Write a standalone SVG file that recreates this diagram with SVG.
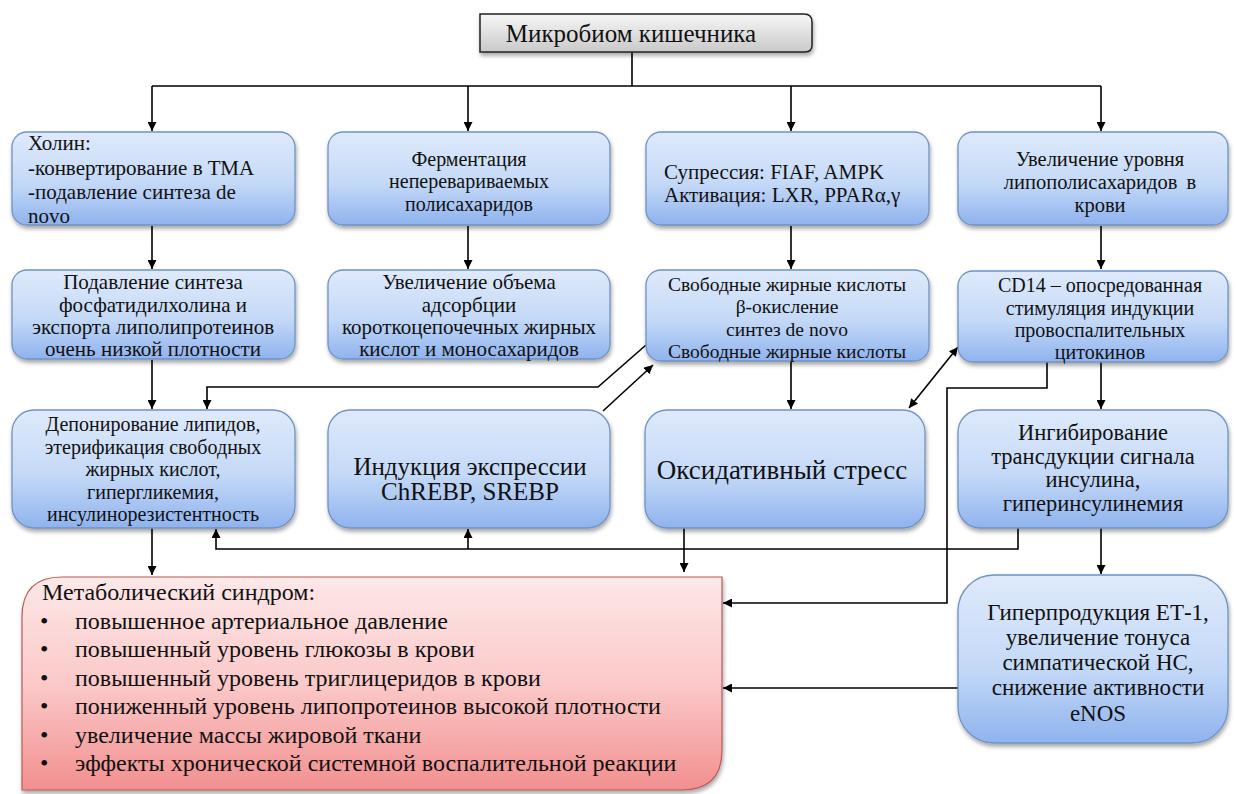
<svg xmlns="http://www.w3.org/2000/svg" width="1236" height="794" viewBox="0 0 1236 794">
<defs>
<linearGradient id="gBlue" x1="0" y1="0" x2="0" y2="1">
<stop offset="0" stop-color="#dfeafb"/><stop offset="0.55" stop-color="#c4d9f7"/><stop offset="1" stop-color="#8fb3ee"/>
</linearGradient>
<linearGradient id="gGray" x1="0" y1="0" x2="0" y2="1">
<stop offset="0" stop-color="#f7f7f7"/><stop offset="1" stop-color="#c9c9c9"/>
</linearGradient>
<linearGradient id="gRed" x1="0" y1="0" x2="0" y2="1">
<stop offset="0" stop-color="#fde8e8"/><stop offset="0.5" stop-color="#fbc9c9"/><stop offset="1" stop-color="#f28f8f"/>
</linearGradient>
<filter id="sh" x="-10%" y="-10%" width="120%" height="130%">
<feGaussianBlur in="SourceAlpha" stdDeviation="2"/>
<feOffset dx="1" dy="3" result="o"/>
<feComponentTransfer><feFuncA type="linear" slope="0.35"/></feComponentTransfer>
<feMerge><feMergeNode/><feMergeNode in="SourceGraphic"/></feMerge>
</filter>
<marker id="ah" viewBox="0 0 10 10" refX="10" refY="5" markerWidth="9" markerHeight="9" markerUnits="userSpaceOnUse" orient="auto-start-reverse">
<path d="M0,0 L10,5 L0,10 z" fill="#000"/>
</marker>
</defs>
<style>
.box{fill:url(#gBlue);stroke:#6f93c4;stroke-width:1.3;filter:url(#sh)}
.t{font-family:"Liberation Serif","Times New Roman",serif;font-size:21px;fill:#111}
.c{text-anchor:middle}
.ln{fill:none;stroke:#000;stroke-width:1.6}
.ar{fill:none;stroke:#000;stroke-width:1.6;marker-end:url(#ah)}
</style>
<rect width="1236" height="794" fill="#fff"/>

<g id="connectors">
<path class="ln" d="M632,52 V86 M152,86 H1101"/>
<path class="ar" d="M152,86 V131"/>
<path class="ar" d="M468,86 V131"/>
<path class="ar" d="M791,86 V131"/>
<path class="ar" d="M1101,86 V131"/>
<path class="ar" d="M152,226 V269"/>
<path class="ar" d="M468,226 V269"/>
<path class="ar" d="M791,226 V269"/>
<path class="ar" d="M1101,226 V269"/>
<path class="ar" d="M152,360 V409"/>
<path class="ar" d="M791,362 V409"/>
<path class="ar" d="M1101,362 V409"/>
<path class="ar" d="M646,345 L598,387 H207 V409"/>
<path class="ar" d="M603,411 L653,365"/>
<path class="ar" style="marker-start:url(#ah)" d="M909,408 L958,347"/>
<path class="ar" d="M1047,362 V388 H947 V603 H723"/>
<path class="ar" d="M1018,528 V549 H216 V529"/>
<path class="ar" d="M468,549 V529"/>
<path class="ar" d="M152,528 V575"/>
<path class="ar" d="M684,528 V572"/>
<path class="ar" d="M1101,528 V574"/>
<path class="ar" d="M958,688 H723"/>
<path class="ar" d="M660,351 C648,330 650,305 664,287"/>
<path class="ar" d="M912,283 C926,303 926,330 916,352"/>
</g>

<g id="n-top">
<path d="M480,14 H804 Q812,14 812,22 V45 Q812,52 805,52 H480 Z" fill="url(#gGray)" stroke="#222" stroke-width="1.5" filter="url(#sh)"/>
<text class="t c" x="631" y="42" style="font-size:25px">Микробиом кишечника</text>
</g>

<g id="n-cholin">
<rect class="box" x="12" y="132" width="283" height="93" rx="15"/>
<text class="t" x="28" y="150">Холин:</text>
<text class="t" x="28" y="175">-конвертирование в ТМА</text>
<text class="t" x="28" y="199">-подавление синтеза de</text>
<text class="t" x="28" y="223">novo</text>
</g>

<g id="n-ferm">
<rect class="box" x="328" y="132" width="282" height="93" rx="15"/>
<text class="t c" x="469" y="166" style="font-size:20px">Ферментация</text>
<text class="t c" x="469" y="188" style="font-size:20px">неперевариваемых</text>
<text class="t c" x="469" y="211" style="font-size:20px">полисахаридов</text>
</g>

<g id="n-supp">
<rect class="box" x="646" y="132" width="283" height="93" rx="15"/>
<text class="t" x="664" y="179">Супрессия:  FIAF, AMPK</text>
<text class="t" x="664" y="202">Активация:  LXR, PPARα,γ</text>
</g>

<g id="n-lps">
<rect class="box" x="958" y="132" width="270" height="93" rx="15"/>
<text class="t c" x="1100" y="166" style="font-size:20.5px">Увеличение уровня</text>
<text class="t c" x="1100" y="189" style="font-size:20.5px" word-spacing="4">липополисахаридов в</text>
<text class="t c" x="1100" y="212" style="font-size:20.5px">крови</text>
</g>

<g id="n-phos">
<rect class="box" x="12" y="270" width="283" height="89" rx="15"/>
<text class="t c" x="153" y="289">Подавление синтеза</text>
<text class="t c" x="153" y="312">фосфатидилхолина и</text>
<text class="t c" x="153" y="334">экспорта липолипротеинов</text>
<text class="t c" x="153" y="356">очень низкой плотности</text>
</g>

<g id="n-ads">
<rect class="box" x="328" y="270" width="282" height="89" rx="15"/>
<text class="t c" x="469" y="289">Увеличение объема</text>
<text class="t c" x="469" y="312">адсорбции</text>
<text class="t c" x="469" y="334">короткоцепочечных жирных</text>
<text class="t c" x="469" y="356">кислот и моносахаридов</text>
</g>

<g id="n-ffa">
<rect class="box" x="646" y="270" width="283" height="91" rx="15"/>
<text class="t c" x="787" y="291" style="font-size:19.5px">Свободные жирные кислоты</text>
<text class="t c" x="787" y="313" style="font-size:19.5px">β-окисление</text>
<text class="t c" x="787" y="336" style="font-size:19.5px">синтез de novo</text>
<text class="t c" x="787" y="358" style="font-size:19.5px">Свободные жирные кислоты</text>
</g>

<g id="n-cd14">
<rect class="box" x="958" y="271" width="270" height="91" rx="15"/>
<text class="t c" x="1100" y="292" style="font-size:20px">CD14 – опосредованная</text>
<text class="t c" x="1100" y="315" style="font-size:20px">стимуляция индукции</text>
<text class="t c" x="1100" y="337" style="font-size:20px">провоспалительных</text>
<text class="t c" x="1100" y="359" style="font-size:20px">цитокинов</text>
</g>

<g id="n-depo">
<rect class="box" x="12" y="410" width="283" height="118" rx="22"/>
<text class="t c" x="153" y="431" style="font-size:20px">Депонирование липидов,</text>
<text class="t c" x="153" y="454" style="font-size:20px">этерификация свободных</text>
<text class="t c" x="153" y="476" style="font-size:20px">жирных кислот,</text>
<text class="t c" x="153" y="499" style="font-size:20px">гипергликемия,</text>
<text class="t c" x="153" y="521" style="font-size:20px">инсулинорезистентность</text>
</g>

<g id="n-ind">
<rect class="box" x="328" y="410" width="282" height="118" rx="22"/>
<text class="t c" x="470" y="475" style="font-size:25px">Индукция экспрессии</text>
<text class="t c" x="470" y="500" style="font-size:25px">ChREBP, SREBP</text>
</g>

<g id="n-ox">
<rect class="box" x="645" y="410" width="280" height="118" rx="22"/>
<text class="t c" x="782" y="479" style="font-size:27px">Оксидативный стресс</text>
</g>

<g id="n-ins">
<rect class="box" x="958" y="410" width="270" height="118" rx="22"/>
<text class="t c" x="1093" y="440" style="font-size:22.5px">Ингибирование</text>
<text class="t c" x="1093" y="464" style="font-size:22.5px">трансдукции сигнала</text>
<text class="t c" x="1093" y="487" style="font-size:22.5px">инсулина,</text>
<text class="t c" x="1093" y="511" style="font-size:22.5px">гиперинсулинемия</text>
</g>

<g id="n-met">
<path d="M62,577 H722 V750 Q722,790 682,790 H22 V617 Q22,577 62,577 Z" fill="url(#gRed)" stroke="#b85a5a" stroke-width="1.2" filter="url(#sh)"/>
<g class="t" style="font-size:24px">
<text x="42" y="600">Метаболический синдром:</text>
<text x="40" y="629">•</text><text x="75" y="629">повышенное артериальное давление</text>
<text x="40" y="657">•</text><text x="75" y="657">повышенный уровень глюкозы в крови</text>
<text x="40" y="686">•</text><text x="75" y="686">повышенный уровень триглицеридов в крови</text>
<text x="40" y="714">•</text><text x="75" y="714">пониженный уровень липопротеинов высокой плотности</text>
<text x="40" y="743">•</text><text x="75" y="743">увеличение массы жировой ткани</text>
<text x="40" y="771">•</text><text x="75" y="771">эффекты хронической системной воспалительной реакции</text>
</g>
</g>

<g id="n-et1">
<rect class="box" x="958" y="575" width="270" height="168" rx="36"/>
<g class="t c" style="font-size:23px">
<text x="1098" y="620">Гиперпродукция ЕТ-1,</text>
<text x="1098" y="645">увеличение тонуса</text>
<text x="1098" y="670">симпатической НС,</text>
<text x="1098" y="695">снижение активности</text>
<text x="1098" y="721">eNOS</text>
</g>
</g>
</svg>
